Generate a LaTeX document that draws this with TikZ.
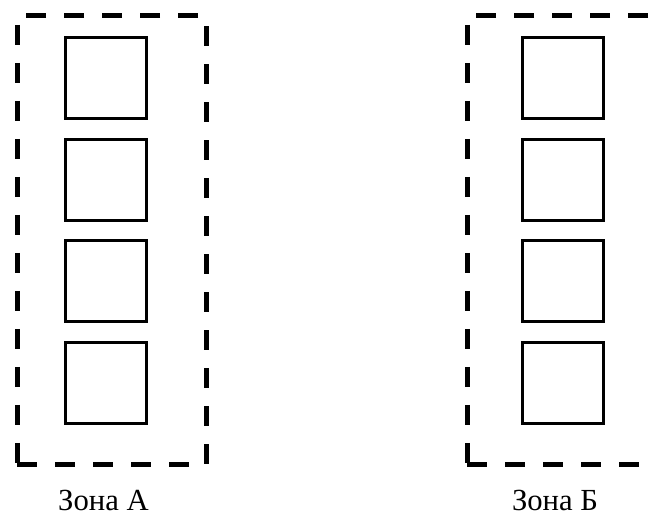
\documentclass[tikz,border=0pt]{standalone}
\usepackage{fontspec}
\setmainfont{Liberation Serif}
\begin{document}
\begin{tikzpicture}[x=0.75pt,y=-0.75pt,
  zone/.style={draw=black, line width=3.75pt, dash pattern=on 15pt off 13.5pt,
    minimum width=189*0.75pt, minimum height=449*0.75pt, inner sep=0pt, anchor=center},
  cell/.style={draw=black, line width=2.25pt, minimum size=81*0.75pt, inner sep=0pt},
  zlabel/.style={font=\fontsize{23pt}{27pt}\selectfont, inner sep=0pt, anchor=base}
]
\useasboundingbox (0,0) rectangle (651,520);
\clip (0,0) rectangle (651,520);
% zone frames
\node[zone] (zoneA) at (111.5,240.5) {};
\node[zone] (zoneB) at (561.5,240.5) {};
% cells of zone A
\node[cell] (a1) at (105.5,78.5) {};
\node[cell] (a2) at (105.5,180.5) {};
\node[cell] (a3) at (105.5,281.5) {};
\node[cell] (a4) at (105.5,383.5) {};
% cells of zone B
\node[cell] (b1) at (563,78.5) {};
\node[cell] (b2) at (563,180.5) {};
\node[cell] (b3) at (563,281.5) {};
\node[cell] (b4) at (563,383.5) {};
% captions
\node[zlabel] (labA) at (103.5,511) {Зона А};
\node[zlabel] (labB) at (555,511) {Зона Б};
\end{tikzpicture}
\end{document}
